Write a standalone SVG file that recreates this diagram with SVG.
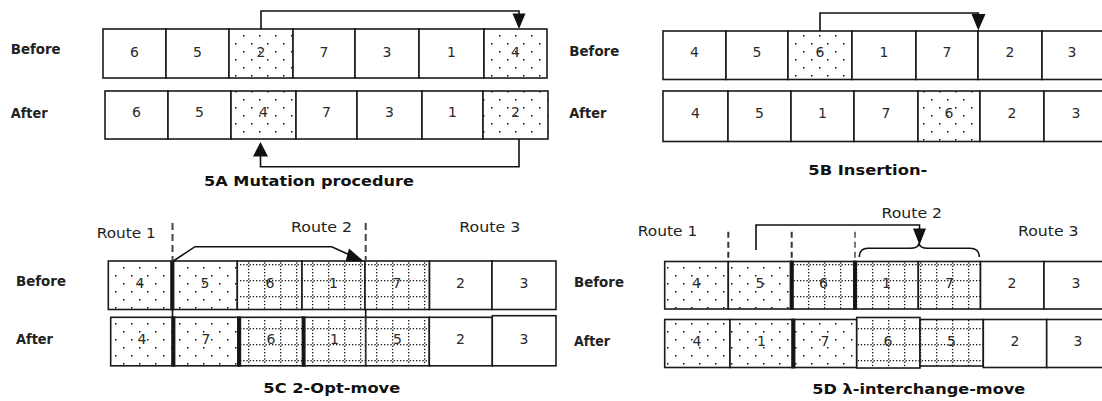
<svg xmlns="http://www.w3.org/2000/svg" width="1102" height="401" viewBox="0 0 1102 401">
<defs>
<pattern id="dots" width="16" height="16" patternUnits="userSpaceOnUse">
<rect width="16" height="16" fill="#fff"/>
<rect x="3" y="3" width="1.5" height="1.5" fill="#111"/>
<rect x="11" y="11" width="1.5" height="1.5" fill="#111"/>
</pattern>
<pattern id="grid" width="16" height="16" patternUnits="userSpaceOnUse">
<rect width="16" height="16" fill="#fff"/>
<g fill="#111">
<rect x="0" y="8" width="1.3" height="1.3"/><rect x="3.2" y="8" width="1.3" height="1.3"/><rect x="6.4" y="8" width="1.3" height="1.3"/><rect x="9.6" y="8" width="1.3" height="1.3"/><rect x="12.8" y="8" width="1.3" height="1.3"/>
<rect x="8" y="0" width="1.3" height="1.3"/><rect x="8" y="3.2" width="1.3" height="1.3"/><rect x="8" y="6.4" width="1.3" height="1.3"/><rect x="8" y="9.6" width="1.3" height="1.3"/><rect x="8" y="12.8" width="1.3" height="1.3"/>
</g>
</pattern>
</defs>
<style>
.cell rect{stroke:#1a1a1a;stroke-width:1.6}
.w{fill:#fff}
.d{fill:url(#dots)}
.g{fill:url(#grid)}
.num{font-family:"DejaVu Sans",Verdana,sans-serif;font-size:14px;fill:#2a2a2a;text-anchor:middle}
.lbl{font-family:"DejaVu Sans",Verdana,sans-serif;font-size:13.5px;font-weight:bold;fill:#222}
.route{font-family:"DejaVu Sans",Verdana,sans-serif;font-size:14.5px;fill:#222}
.cap{font-family:"DejaVu Sans",Verdana,sans-serif;font-size:13.5px;font-weight:bold;fill:#111}
.ln{fill:none;stroke:#111;stroke-width:1.6}
.dash{fill:none;stroke:#444;stroke-width:2;stroke-dasharray:7 4}
.dash2{fill:none;stroke:#333;stroke-width:2;stroke-dasharray:6 4}
.head{fill:#111}
.bar{fill:#111;stroke:none}
</style>
<rect width="1102" height="401" fill="#fff"/>

<!-- Labels -->
<g id="labels">
<text class="lbl" x="10.7" y="54" textLength="50" lengthAdjust="spacingAndGlyphs">Before</text>
<text class="lbl" x="10.7" y="117.5" textLength="37" lengthAdjust="spacingAndGlyphs">After</text>
<text class="lbl" x="569.3" y="56" textLength="50" lengthAdjust="spacingAndGlyphs">Before</text>
<text class="lbl" x="569.3" y="117.5" textLength="37" lengthAdjust="spacingAndGlyphs">After</text>
<text class="lbl" x="16" y="285.5" textLength="50" lengthAdjust="spacingAndGlyphs">Before</text>
<text class="lbl" x="16" y="343.5" textLength="37" lengthAdjust="spacingAndGlyphs">After</text>
<text class="lbl" x="574" y="286.5" textLength="50" lengthAdjust="spacingAndGlyphs">Before</text>
<text class="lbl" x="574" y="346" textLength="36" lengthAdjust="spacingAndGlyphs">After</text>
<text class="route" x="96.7" y="238" textLength="59" lengthAdjust="spacingAndGlyphs">Route 1</text>
<text class="route" x="291" y="231.5" textLength="61" lengthAdjust="spacingAndGlyphs">Route 2</text>
<text class="route" x="459.3" y="231.5" textLength="61" lengthAdjust="spacingAndGlyphs">Route 3</text>
<text class="route" x="637.8" y="235.5" textLength="59.5" lengthAdjust="spacingAndGlyphs">Route 1</text>
<text class="route" x="881.5" y="217.5" textLength="60.5" lengthAdjust="spacingAndGlyphs">Route 2</text>
<text class="route" x="1018" y="235.5" textLength="60.5" lengthAdjust="spacingAndGlyphs">Route 3</text>
<text class="cap" x="204" y="185.5" textLength="210" lengthAdjust="spacingAndGlyphs">5A Mutation procedure</text>
<text class="cap" x="808.3" y="175" textLength="119" lengthAdjust="spacingAndGlyphs">5B Insertion-</text>
<text class="cap" x="263.3" y="393" textLength="137" lengthAdjust="spacingAndGlyphs">5C 2-Opt-move</text>
<text class="cap" x="812.3" y="394" textLength="213" lengthAdjust="spacingAndGlyphs">5D λ-interchange-move</text>
</g>

<!-- Panel A -->
<g id="A-before" class="cell">
<rect class="w" x="103" y="29" width="63" height="49"/><text class="num" x="134.5" y="56.5">6</text>
<rect class="w" x="166" y="29" width="63" height="49"/><text class="num" x="197.5" y="56.5">5</text>
<rect class="d" x="229" y="29" width="64" height="49"/><text class="num" x="261" y="56.5">2</text>
<rect class="w" x="293" y="29" width="62" height="49"/><text class="num" x="324" y="56.5">7</text>
<rect class="w" x="355" y="29" width="64" height="49"/><text class="num" x="387" y="56.5">3</text>
<rect class="w" x="419" y="29" width="65" height="49"/><text class="num" x="451.5" y="56.5">1</text>
<rect class="d" x="484" y="29" width="63" height="49"/><text class="num" x="515.5" y="56.5">4</text>
</g>
<g id="A-after" class="cell">
<rect class="w" x="105" y="91" width="63" height="48"/><text class="num" x="136.5" y="116.5">6</text>
<rect class="w" x="168" y="91" width="63" height="48"/><text class="num" x="199.5" y="116.5">5</text>
<rect class="d" x="231" y="91" width="65" height="48"/><text class="num" x="263.5" y="116.5">4</text>
<rect class="w" x="296" y="91" width="61" height="48"/><text class="num" x="326.5" y="116.5">7</text>
<rect class="w" x="357" y="91" width="65" height="48"/><text class="num" x="389.5" y="116.5">3</text>
<rect class="w" x="422" y="91" width="61" height="48"/><text class="num" x="452.5" y="116.5">1</text>
<rect class="d" x="483" y="91" width="65" height="48"/><text class="num" x="515.5" y="116.5">2</text>
</g>

<!-- Panel B -->
<g id="B-before" class="cell">
<rect class="w" x="663" y="31" width="63" height="48.5"/><text class="num" x="694.5" y="57">4</text>
<rect class="w" x="726" y="31" width="62" height="48.5"/><text class="num" x="757" y="57">5</text>
<rect class="d" x="788" y="31" width="64" height="48.5"/><text class="num" x="820" y="57">6</text>
<rect class="w" x="852" y="31" width="64" height="48.5"/><text class="num" x="884" y="57">1</text>
<rect class="w" x="916" y="31" width="62" height="48.5"/><text class="num" x="947" y="57">7</text>
<rect class="w" x="978" y="31" width="64" height="48.5"/><text class="num" x="1010" y="57">2</text>
<rect class="w" x="1042" y="31" width="64" height="48.5"/><text class="num" x="1072" y="57">3</text>
</g>
<g id="B-after" class="cell">
<rect class="w" x="663" y="91" width="65" height="50.5"/><text class="num" x="695.5" y="118">4</text>
<rect class="w" x="728" y="91" width="63" height="50.5"/><text class="num" x="759.5" y="118">5</text>
<rect class="w" x="791" y="91" width="63" height="50.5"/><text class="num" x="822.5" y="118">1</text>
<rect class="w" x="854" y="91" width="64" height="50.5"/><text class="num" x="886" y="118">7</text>
<rect class="d" x="918" y="91" width="62" height="50.5"/><text class="num" x="949" y="118">6</text>
<rect class="w" x="980" y="91" width="64" height="50.5"/><text class="num" x="1012" y="118">2</text>
<rect class="w" x="1044" y="91" width="64" height="50.5"/><text class="num" x="1076" y="118">3</text>
</g>

<!-- Panel C -->
<g id="C-before" class="cell">
<rect class="d" x="108.3" y="261" width="64" height="48.5"/><text class="num" x="140" y="287.5">4</text>
<rect class="d" x="172.3" y="261" width="65" height="48.5"/><text class="num" x="205" y="287.5">5</text>
<rect class="g" x="237.3" y="261" width="64.7" height="48.5"/><text class="num" x="270" y="287.5">6</text>
<rect class="g" x="302" y="261" width="63" height="48.5"/><text class="num" x="333.5" y="287.5">1</text>
<rect class="g" x="365" y="261" width="64.5" height="48.5"/><text class="num" x="397" y="287.5">7</text>
<rect class="w" x="429.5" y="261" width="62.5" height="48.5"/><text class="num" x="460.5" y="287.5">2</text>
<rect class="w" x="492" y="261" width="64" height="48.5"/><text class="num" x="524" y="287.5">3</text>
<rect class="bar" x="171" y="261" width="2.6" height="48.5"/>
</g>
<g id="C-after" class="cell">
<rect class="d" x="110.7" y="317.3" width="62.6" height="48.5"/><text class="num" x="142" y="343.5">4</text>
<rect class="d" x="173.3" y="317.3" width="65.7" height="48.5"/><text class="num" x="206" y="343.5">7</text>
<rect class="g" x="239" y="317.3" width="64.6" height="48.5"/><text class="num" x="271" y="343.5">6</text>
<rect class="g" x="303.6" y="317.3" width="62.1" height="48.5"/><text class="num" x="334.5" y="343.5">1</text>
<rect class="g" x="365.7" y="317.3" width="63.6" height="48.5"/><text class="num" x="397.5" y="343.5">5</text>
<rect class="w" x="429.3" y="317.3" width="63" height="48.5"/><text class="num" x="460.5" y="343.5">2</text>
<rect class="w" x="492.3" y="315.7" width="63.7" height="50.1"/><text class="num" x="524" y="343.5">3</text>
<rect class="bar" x="172" y="317.3" width="2.6" height="48.5"/>
<rect class="bar" x="237.8" y="317.3" width="2.6" height="48.5"/>
<rect class="bar" x="302.4" y="317.3" width="2.4" height="48.5"/>
</g>

<!-- Panel D -->
<g id="D-before" class="cell">
<rect class="d" x="664.7" y="261.5" width="63.6" height="47.5"/><text class="num" x="696.5" y="287.5">4</text>
<rect class="d" x="728.3" y="261.5" width="63.4" height="47.5"/><text class="num" x="760" y="287.5">5</text>
<rect class="g" x="791.7" y="261.5" width="63.3" height="47.5"/><text class="num" x="823.5" y="287.5">6</text>
<rect class="g" x="855" y="261.5" width="63.3" height="47.5"/><text class="num" x="886.5" y="287.5">1</text>
<rect class="g" x="918.3" y="261.5" width="62.2" height="47.5"/><text class="num" x="949.5" y="287.5">7</text>
<rect class="w" x="980.5" y="261.5" width="63.5" height="47.5"/><text class="num" x="1012" y="287.5">2</text>
<rect class="w" x="1044" y="261.5" width="64" height="47.5"/><text class="num" x="1076" y="287.5">3</text>
<rect class="bar" x="790.4" y="261.5" width="2.6" height="47.5"/>
<rect class="bar" x="853.8" y="261.5" width="2.4" height="47.5"/>
</g>
<g id="D-after" class="cell">
<rect class="d" x="664.7" y="319.5" width="65.3" height="48"/><text class="num" x="697" y="346">4</text>
<rect class="d" x="730" y="319.5" width="63.3" height="48"/><text class="num" x="761.5" y="346">1</text>
<rect class="d" x="793.3" y="319.5" width="63.4" height="48"/><text class="num" x="825" y="346">7</text>
<rect class="g" x="856.7" y="317.5" width="63.3" height="50.5"/><text class="num" x="888" y="346">6</text>
<rect class="g" x="920" y="319.5" width="63.3" height="46.5"/><text class="num" x="951.5" y="346">5</text>
<rect class="w" x="983.3" y="319.5" width="63.4" height="48"/><text class="num" x="1015" y="346">2</text>
<rect class="w" x="1046.7" y="319.5" width="64" height="48"/><text class="num" x="1078" y="346">3</text>
<rect class="bar" x="792" y="319.5" width="2.6" height="48"/>
</g>

<!-- Connectors -->
<g id="connectors">
<path class="ln" d="M261 29 V11 H519 V15"/>
<polygon class="head" points="512.5,13.5 525.5,13.5 519,29"/>
<path class="ln" d="M519 139 V166.7 H260.5 V156"/>
<polygon class="head" points="253,156.5 268,156.5 260.5,142"/>
<path class="ln" d="M820 31 V13 H978.3 V15"/>
<polygon class="head" points="971.5,14 985.5,14 978.3,30.5"/>
<path class="dash" d="M172.5 223 V261"/>
<path class="dash" d="M365.7 223 V261"/>
<path class="ln" d="M172.5 309 V317.5 M365.7 309 V317.5"/>
<path class="dash" d="M365.7 317 V366" style="stroke-width:1.2;stroke-dasharray:3 2"/>
<path class="ln" d="M173.3 261 L195 246.7 H331.7 L352 256"/>
<polygon class="head" points="349,248.5 345.5,261.5 364,261.5"/>
<path class="dash2" d="M728.3 231.7 V261.5"/>
<path class="dash2" d="M791.7 231.7 V261.5"/>
<path class="dash2" d="M855 231.7 V261.5" style="stroke:#777"/>
<path class="ln" d="M756 250 V225 H919.5 V230"/>
<polygon class="head" points="913,228.5 926,228.5 919.5,245"/>
<path class="ln" d="M859.3 257 Q859.3 248.3 868 248.3 H910 Q918.5 248.3 919 243 Q919.5 248.3 928 248.3 H970 Q979.3 248.3 979.3 257"/>
</g>
</svg>
